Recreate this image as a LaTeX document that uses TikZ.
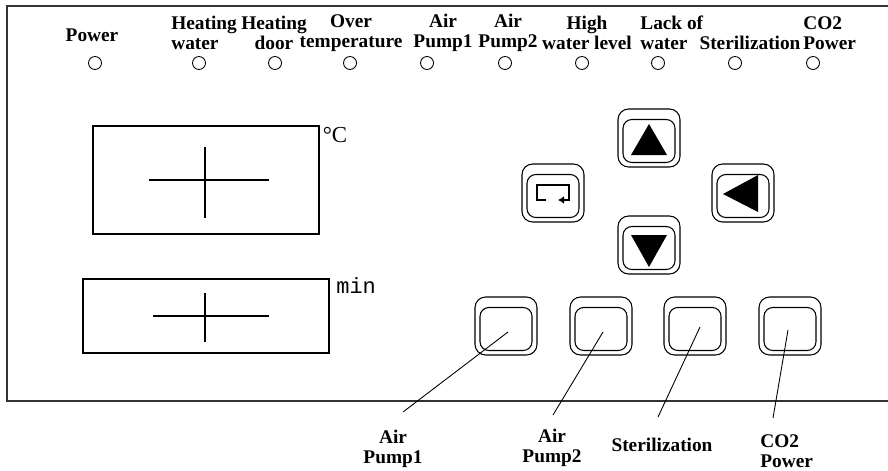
\documentclass[tikz,border=0pt]{standalone}
\usepackage{fontspec}
\setmainfont{Liberation Serif}
\setmonofont{Liberation Mono}
\usetikzlibrary{arrows.meta, calc}
\newcommand{\panelfont}{\fontsize{11}{11.4}\selectfont\bfseries}

\begin{document}
\begin{tikzpicture}[x=0.02cm, y=-0.02cm,
  led/.style={circle, draw, line width=0.5pt, minimum size=7.4pt, inner sep=0pt},
  lbl/.style={font=\panelfont, align=center, inner sep=0pt},
  keyout/.style={draw, line width=0.6pt, rounded corners=6pt, minimum width=1.24cm, minimum height=1.16cm, inner sep=0pt},
  keyin/.style={draw, line width=0.6pt, rounded corners=5pt, minimum width=1.04cm, minimum height=0.86cm, inner sep=0pt},
  disp/.style={draw, line width=0.8pt, inner sep=0pt},
  lead/.style={line width=0.5pt}
]
\useasboundingbox (0,0) rectangle (888,470);
% panel outline, open on the right
\draw[line width=1pt, black!80] (888,6) -- (7,6) -- (7,401) -- (888,401);

% indicator lamps
\foreach \x/\n in {95/pw, 199/hw, 275/hd, 350/ot, 427/apa, 505/apb, 582/hl, 658/lw, 735/st, 813/co}
  \node[led] (\n) at (\x,63) {};

\node[lbl] (pwlbl) at (92,35) {Power};
\node[lbl, align=left, anchor=west] (hwlbl) at (171,33) {Heating\\water};
\node[lbl] (hdlbl) at (274,33) {Heating\\door};
\node[lbl] (otlbl) at (351,33) {Over\\temperature};
\node[lbl] (apalbl) at (443,33) {Air\\Pump1};
\node[lbl] (apblbl) at (508,33) {Air\\Pump2};
\node[lbl] (hllbl) at (587,33) {High\\water level};
\node[lbl, align=left, anchor=west] (lwlbl) at (640,33) {Lack of\\water};
\node[lbl] (stlbl) at (750,43) {Sterilization};
\node[lbl, align=left, anchor=west] (colbl) at (803,33) {CO2\\Power};

% displays
\node[disp, minimum width=4.52cm, minimum height=2.16cm] (tbox) at (206,180) {};
\draw[line width=0.8pt] ($(tbox)+(-57,0)$) -- ($(tbox)+(63,0)$)
  ($(tbox)+(-1,-33)$) -- ($(tbox)+(-1,38)$);
\node[inner sep=0pt, font=\fontsize{13}{13}\selectfont] (degc) at (335,135) {°C};

\node[disp, minimum width=4.92cm, minimum height=1.48cm] (mbox) at (206,316) {};
\draw[line width=0.8pt] ($(mbox)+(-53,0)$) -- ($(mbox)+(63,0)$)
  ($(mbox)+(-1,-23)$) -- ($(mbox)+(-1,26)$);
\node[inner sep=0pt, anchor=west, font=\ttfamily\fontsize{12.5}{12.5}\selectfont] (minu) at (336,286) {min};

% navigation keys
\foreach \x/\y/\n in {649/138/kup, 649/245/kdn, 553/193/kret, 743/193/klft} {
  \node[keyout] (\n) at (\x,\y) {};
  \node[keyin] at ($(\n)+(0,3)$) {};
}
\fill ($(kup)+(0,-14)$) -- ($(kup)+(-18,17)$) -- ($(kup)+(18,17)$) -- cycle;
\fill ($(kdn)+(-18,-10)$) -- ($(kdn)+(18,-10)$) -- ($(kdn)+(0,22)$) -- cycle;
\fill ($(klft)+(-20,1)$) -- ($(klft)+(15,-18)$) -- ($(klft)+(15,19)$) -- cycle;
\draw[line width=1.2pt, -{Latex[length=3.5pt,width=4.5pt]}]
  ($(kret)+(-7,7)$) -- ($(kret)+(-16,7)$) -- ($(kret)+(-16,-8)$)
  -- ($(kret)+(16,-8)$) -- ($(kret)+(16,7)$) -- ($(kret)+(5,7)$);

% function keys
\foreach \x/\n in {506/ka, 601/kb, 695/kc, 790/kd} {
  \node[keyout] (\n) at (\x,326) {};
  \node[keyin] at ($(\n)+(0,3)$) {};
}

\node[lbl] (kalbl) at (393,449) {Air\\Pump1};
\node[lbl] (kblbl) at (552,448) {Air\\Pump2};
\node[lbl] (kclbl) at (662,445) {Sterilization};
\node[lbl, align=left, anchor=west] (kdlbl) at (760,451) {CO2\\Power};

\coordinate (ta) at (403,412);
\coordinate (tb) at (553,415);
\coordinate (tc) at (658,417);
\coordinate (td) at (773,418);
\draw[lead] ($(ka)+(2,6)$) -- (ta);
\draw[lead] ($(kb)+(2,6)$) -- (tb);
\draw[lead] ($(kc)+(5,1)$) -- (tc);
\draw[lead] ($(kd)+(-2,4)$) -- (td);
\end{tikzpicture}
\end{document}
